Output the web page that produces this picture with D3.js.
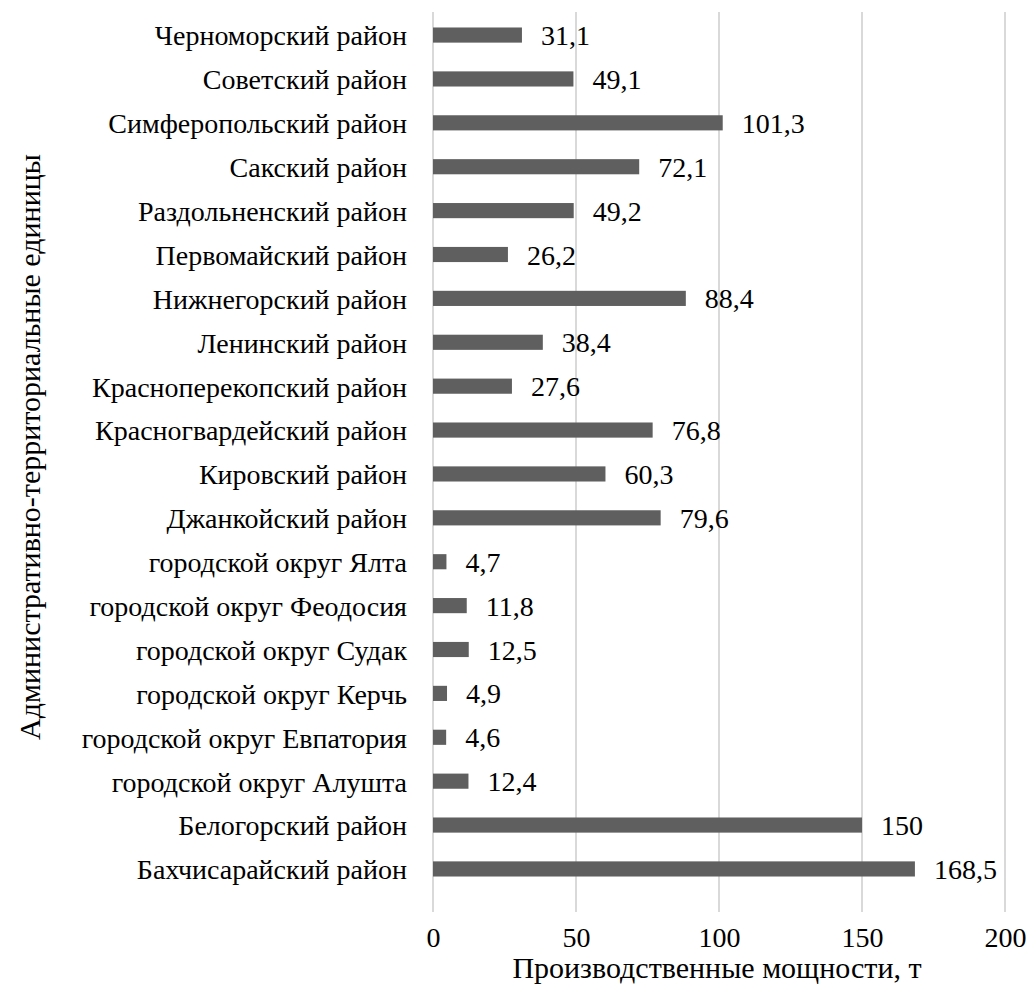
<!DOCTYPE html>
<html>
<head>
<meta charset="utf-8">
<script src="https://cdn.jsdelivr.net/npm/d3@7"></script>
</head>
<body style="margin:0">
<svg id="chart" width="1030" height="985" font-family="Liberation Serif"></svg>
<script>
// Districts and urban districts, top to bottom
const categories = [
  "Черноморский район",
  "Советский район",
  "Симферопольский район",
  "Сакский район",
  "Раздольненский район",
  "Первомайский район",
  "Нижнегорский район",
  "Ленинский район",
  "Красноперекопский район",
  "Красногвардейский район",
  "Кировский район",
  "Джанкойский район",
  "городской округ Ялта",
  "городской округ Феодосия",
  "городской округ Судак",
  "городской округ Керчь",
  "городской округ Евпатория",
  "городской округ Алушта",
  "Белогорский район",
  "Бахчисарайский район"
];
// Production capacity, t
const values = [31.1, 49.1, 101.3, 72.1, 49.2, 26.2, 88.4, 38.4, 27.6, 76.8,
                60.3, 79.6, 4.7, 11.8, 12.5, 4.9, 4.6, 12.4, 150, 168.5];
const xTicks = [0, 50, 100, 150, 200];
const xTitle = "Производственные мощности, т";
const yTitle = "Административно-территориальные единицы";

const FONT = "Liberation Serif";
const svg = d3.select("#chart");
const plotLeft = 433, plotRight = 1005, plotTop = 13, plotBottom = 891;

const x = d3.scaleLinear().domain([0, 200]).range([plotLeft, plotRight]);
const y = d3.scaleBand().domain(categories).range([plotTop, plotBottom])
  .paddingInner(0.655).paddingOuter(0.33);

// vertical gridlines
svg.append("g").selectAll("line").data(xTicks).join("line")
  .attr("x1", d => x(d)).attr("x2", d => x(d))
  .attr("y1", 12).attr("y2", 912)
  .attr("stroke", "#d9d9d9").attr("stroke-width", 2);

// bars
svg.append("g").selectAll("rect").data(values).join("rect")
  .attr("x", x(0))
  .attr("y", (d, i) => y(categories[i]))
  .attr("width", d => x(d) - x(0))
  .attr("height", y.bandwidth())
  .attr("fill", "#5f5f5f");

// value labels
const fmt = v => String(v).replace(".", ",");
svg.append("g").selectAll("text").data(values).join("text")
  .attr("x", d => x(d) + 19)
  .attr("y", (d, i) => y(categories[i]) + y.bandwidth() / 2)
  .attr("dy", "0.36em")
  .attr("font-family", FONT)
  .attr("font-size", 28)
  .attr("fill", "#000")
  .text(fmt);

// category labels
svg.append("g").selectAll("text").data(categories).join("text")
  .attr("x", 407)
  .attr("y", d => y(d) + y.bandwidth() / 2)
  .attr("dy", "0.37em")
  .attr("text-anchor", "end")
  .attr("font-family", FONT)
  .attr("font-size", 28)
  .attr("fill", "#000")
  .text(d => d);

// x tick labels
const xAxis = svg.append("g").attr("transform", `translate(0,${912})`)
  .call(d3.axisBottom(x).tickValues(xTicks).tickSize(0).tickPadding(15));
xAxis.select(".domain").remove();
xAxis.attr("font-family", FONT).attr("font-size", 28);
xAxis.selectAll("text")
  .attr("font-family", FONT)
  .attr("fill", "#000");

// axis titles
svg.append("text")
  .attr("x", 717).attr("y", 978)
  .attr("text-anchor", "middle")
  .attr("font-family", FONT)
  .attr("font-size", 30)
  .text(xTitle);

svg.append("text")
  .attr("transform", "translate(40,447) rotate(-90)")
  .attr("text-anchor", "middle")
  .attr("font-family", FONT)
  .attr("font-size", 30)
  .text(yTitle);
</script>
</body>
</html>
